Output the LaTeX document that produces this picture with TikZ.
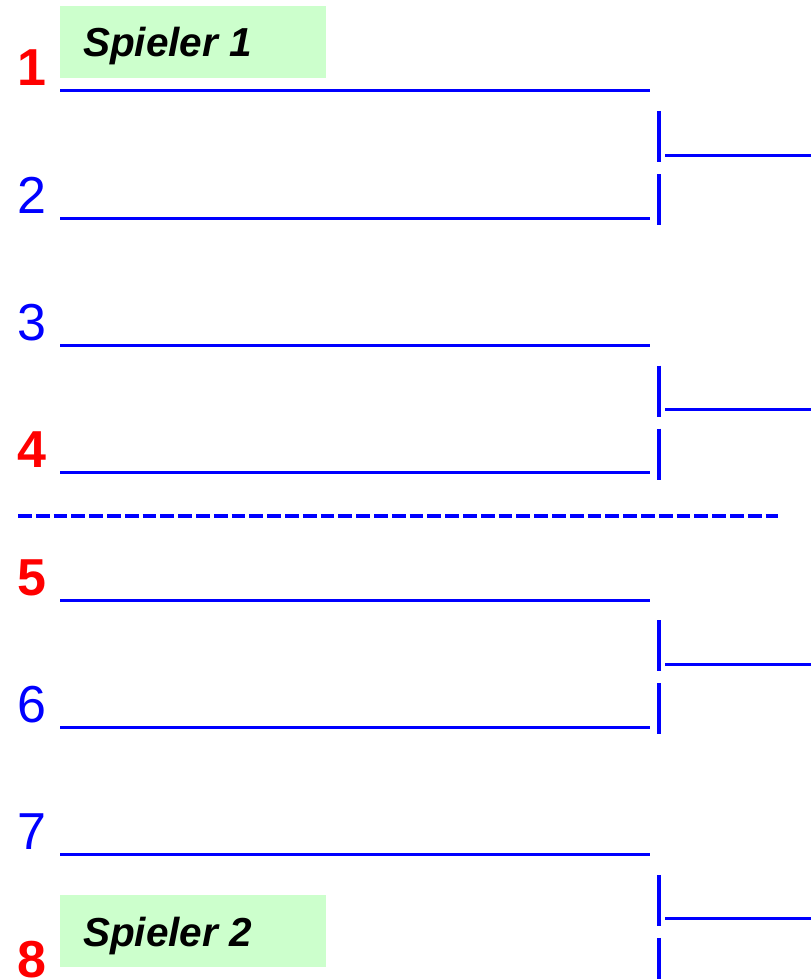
\documentclass[tikz,border=0pt]{standalone}
\usepackage{fontspec}
\setmainfont{Liberation Sans}
\definecolor{pblue}{RGB}{0,0,255}
\definecolor{pred}{RGB}{255,0,0}
\definecolor{pgreen}{RGB}{204,255,204}
\tikzset{
  slot/.style={draw=pblue, line width=3pt},
  barline/.style={draw=pblue, line width=4pt},
  numred/.style={anchor=base west, inner sep=0pt, text=pred, font=\fontsize{52}{52}\selectfont\bfseries},
  numblue/.style={anchor=base west, inner sep=0pt, text=pblue, font=\fontsize{52}{52}\selectfont},
  namebox/.style={fill=pgreen, minimum width=266pt, minimum height=72pt, inner sep=0pt, anchor=north west},
  nametext/.style={anchor=base west, inner sep=0pt, font=\fontsize{40.5}{40.5}\selectfont\bfseries\itshape},
  sep/.style={draw=pblue, line width=4pt, dash pattern=on 13.8pt off 4pt}
}
\begin{document}
\begin{tikzpicture}[x=1pt,y=-1pt]
\useasboundingbox (0,0) rectangle (811,979);
% name boxes
\node[namebox] (s1) at (60,6) {};
\node[namebox] (s2) at (60,895) {};
\node[nametext] (t1) at (83,57) {Spieler 1};
\node[nametext] (t2) at (83,946) {Spieler 2};
% slots
\foreach \i/\st in {1/numred,2/numblue,3/numblue,4/numred,5/numred,6/numblue,7/numblue,8/numred}{
  \pgfmathsetmacro{\yy}{91+127.3*(\i-1)}
  \coordinate (a\i) at (60,\yy);
  \coordinate (b\i) at (650,\yy);
  \node[\st] (n\i) at (17,\yy-5) {\i};
  \draw[slot] (a\i) -- (b\i);
}
% brackets
\foreach \k in {1,3,5,7}{
  \pgfmathsetmacro{\yy}{91+127.3*(\k-1)}
  \coordinate (u\k) at (659,\yy+20);
  \coordinate (v\k) at (659,\yy+71);
  \coordinate (w\k) at (659,\yy+83);
  \coordinate (z\k) at (659,\yy+134);
  \coordinate (h\k) at (665,\yy+64);
  \coordinate (e\k) at (811,\yy+64);
  \draw[barline] (u\k) -- (v\k);
  \draw[barline] (w\k) -- (z\k);
  \draw[slot] (h\k) -- (e\k);
}
% separator
\coordinate (d1) at (18,516);
\coordinate (d2) at (778,516);
\draw[sep] (d1) -- (d2);
\end{tikzpicture}
\end{document}
